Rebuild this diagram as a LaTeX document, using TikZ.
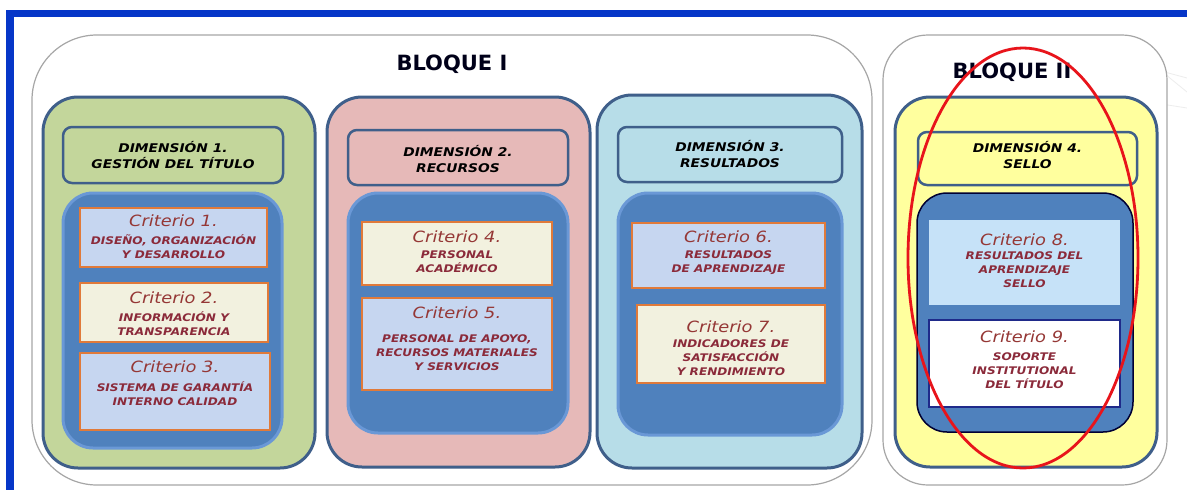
\documentclass[tikz,border=0pt]{standalone}
\usepackage{fontspec}
\usetikzlibrary{shapes.geometric}
\newfontfamily\dv[FakeStretch=1.15]{DejaVu Sans}
\newfontfamily\dvb{DejaVu Sans}
\definecolor{frameblue}{HTML}{0636C8}
\definecolor{bloquegray}{HTML}{A6A6A6}
\definecolor{dimborder}{HTML}{3F5F8A}
\definecolor{dimgreen}{HTML}{C3D69B}
\definecolor{dimpink}{HTML}{E6B9B8}
\definecolor{dimcyan}{HTML}{B7DDE8}
\definecolor{dimyellow}{HTML}{FFFF9E}
\definecolor{innerblue}{HTML}{4F81BD}
\definecolor{innerglow}{HTML}{6A98D6}
\definecolor{critorange}{HTML}{E07A3A}
\definecolor{critblue}{HTML}{C6D6F0}
\definecolor{critcream}{HTML}{F2F1DF}
\definecolor{critsky}{HTML}{C6E2F8}
\definecolor{critnavy}{HTML}{1F2A8A}
\definecolor{titlered}{HTML}{953735}
\definecolor{subred}{HTML}{8B2A3A}
\definecolor{ringred}{HTML}{E8141B}
\newcommand\ctitle{\dv\mdseries\itshape\fontsize{15.5}{17}\selectfont\color{titlered}}
\begin{document}
\begin{tikzpicture}[x=1pt,y=-1pt,
  bloque/.style={rectangle, draw=bloquegray, line width=1.2pt, fill=white, rounded corners=#1, inner sep=0pt},
  dimbox/.style={rectangle, draw=dimborder, line width=3pt, rounded corners=35, fill=#1, inner sep=0pt},
  headbox/.style={rectangle, draw=dimborder, line width=2.5pt, rounded corners=9, fill=#1, inner sep=0pt},
  innerbox/.style={rectangle, draw=innerglow, line width=3pt, fill=innerblue, rounded corners=30, inner sep=0pt},
  critbox/.style={rectangle, draw=critorange, line width=2pt, fill=#1, inner sep=0pt},
  bloquetext/.style={font=\dvb\bfseries\fontsize{21}{24}\selectfont, text=black!90!blue},
  headtext/.style={font=\dv\bfseries\itshape\fontsize{12}{16}\selectfont, align=center, text=black, inner sep=0pt},
  crittext/.style={font=\dv\bfseries\itshape\fontsize{10.5}{14}\selectfont, align=center, text=subred, inner sep=0pt},
  faint/.style={draw=black!7, line width=0.8pt}
]
\useasboundingbox (0,0) rectangle (1187,490);
\fill[white] (0,0) rectangle (1187,490);
% faint background strokes
\draw[faint] (1075,48) -- (1187,78);
\draw[faint] (1110,96) -- (1187,108);
\draw[faint] (1160,70) -- (1187,92);
% frame
\fill[frameblue] (6,10) rectangle (1187,17);
\fill[frameblue] (6,10) rectangle (14,490);
% bloques
\node[bloque=65, minimum width=840, minimum height=450] (b1) at (452,260) {};
\node[bloque=45, minimum width=284, minimum height=450] (b2) at (1025,260) {};
\node[bloquetext] (b1t) at (452,64) {BLOQUE I};
\node[bloquetext] (b2t) at (1012,72) {BLOQUE II};
% dimension boxes
\node[dimbox=dimgreen, minimum width=272, minimum height=371] (d1) at (179,282.5) {};
\node[dimbox=dimpink, minimum width=263, minimum height=370] (d2) at (458.5,282) {};
\node[dimbox=dimcyan, minimum width=265, minimum height=373] (d3) at (729.5,281.5) {};
\node[dimbox=dimyellow, minimum width=262, minimum height=370] (d4) at (1026,282) {};
% headers
\node[headbox=dimgreen, minimum width=220, minimum height=56] (h1) at (173,155) {};
\node[headbox=dimpink, minimum width=220, minimum height=55] (h2) at (458,157.5) {};
\node[headbox=dimcyan, minimum width=224, minimum height=55] (h3) at (730,154.5) {};
\node[headbox=dimyellow, minimum width=219, minimum height=53] (h4) at (1027.5,158.5) {};
\node[headtext] (h1t) at (h1) {DIMENSIÓN 1.\\GESTIÓN DEL TÍTULO};
\node[headtext] (h2t) at (458,159) {DIMENSIÓN 2.\\RECURSOS};
\node[headtext] (h3t) at (730,154) {DIMENSIÓN 3.\\RESULTADOS};
\node[headtext] (h4t) at (1027.5,155.5) {DIMENSIÓN 4.\\SELLO};
% inner blue boxes
\node[innerbox, minimum width=219, minimum height=255] (i1) at (172.5,320.5) {};
\node[innerbox, minimum width=220, minimum height=240] (i2) at (458,313) {};
\node[innerbox, minimum width=224, minimum height=242] (i3) at (730,314) {};
\node[innerbox, draw=black!80!blue, line width=1.5pt, minimum width=216, minimum height=239] (i4) at (1025,312.5) {};
% criterio boxes
\node[critbox=critblue, minimum width=187, minimum height=59] (c1) at (173.5,237.5) {};
\node[critbox=critcream, minimum width=188, minimum height=59] (c2) at (174,312.5) {};
\node[critbox=critblue, minimum width=190, minimum height=77] (c3) at (175,391.5) {};
\node[critbox=critcream, minimum width=190, minimum height=63] (c4) at (457,253.5) {};
\node[critbox=critblue, minimum width=190, minimum height=92] (c5) at (457,344) {};
\node[critbox=critblue, minimum width=193, minimum height=65] (c6) at (728.5,255.5) {};
\node[critbox=critcream, minimum width=188, minimum height=78] (c7) at (731,344) {};
\node[critbox=critsky, draw=none, minimum width=191, minimum height=85] (c8) at (1024.5,262.5) {};
\node[critbox=white, draw=critnavy, line width=2.5pt, minimum width=191, minimum height=87] (c9) at (1024.5,363.5) {};
% criterio texts
\node[crittext] (c1t) at (173.5,237) {{\ctitle Criterio 1.}\\[4pt]DISEÑO, ORGANIZACIÓN\\Y DESARROLLO};
\node[crittext] (c2t) at (174,313.5) {{\ctitle Criterio 2.}\\[4pt]INFORMACIÓN Y\\TRANSPARENCIA};
\node[crittext] (c3t) at (175,383) {{\ctitle Criterio 3.}\\[5pt]SISTEMA DE GARANTÍA\\INTERNO CALIDAD};
\node[crittext] (c4t) at (457,252) {{\ctitle Criterio 4.}\\[2pt]PERSONAL\\ACADÉMICO};
\node[crittext] (c5t) at (457,339) {{\ctitle Criterio 5.}\\[10pt]PERSONAL DE APOYO,\\RECURSOS MATERIALES\\Y SERVICIOS};
\node[crittext] (c6t) at (728.5,253) {{\ctitle Criterio 6.}\\[2pt]RESULTADOS\\DE APRENDIZAJE};
\node[crittext] (c7t) at (731,348) {{\ctitle Criterio 7.}\\[1pt]INDICADORES DE\\SATISFACCIÓN\\Y RENDIMIENTO};
\node[crittext] (c8t) at (1024.5,260.5) {{\ctitle Criterio 8.}\\[0pt]RESULTADOS DEL\\APRENDIZAJE\\SELLO};
\node[crittext] (c9t) at (1024.5,359.5) {{\ctitle Criterio 9.}\\[4pt]SOPORTE\\INSTITUTIONAL\\DEL TÍTULO};
% red ring
\node[ellipse, draw=ringred, line width=2.8pt, minimum width=230, minimum height=420, inner sep=0pt] (ring) at (1023,258) {};
\end{tikzpicture}
\end{document}
